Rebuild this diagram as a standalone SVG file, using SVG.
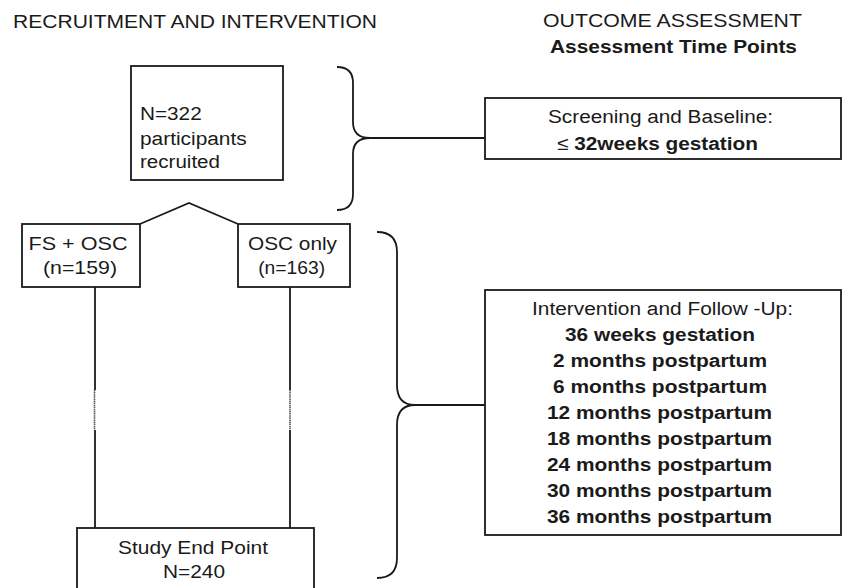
<svg xmlns="http://www.w3.org/2000/svg" width="843" height="588" viewBox="0 0 843 588">
<style>
text{font-family:"Liberation Sans",Arial,Helvetica,sans-serif;font-size:18.8px;fill:#1a1a1a}
.b{font-weight:bold}
.m{text-anchor:middle}
.box{fill:#fff;stroke:#1a1a1a;stroke-width:1.8}
.ln{fill:none;stroke:#1a1a1a;stroke-width:1.8}
.dot{fill:none;stroke:#555;stroke-width:1.6;stroke-dasharray:1.5 0.6}
</style>
<rect width="843" height="588" fill="#fff"/>
<g id="headers">
<text x="13" y="28" textLength="364" lengthAdjust="spacingAndGlyphs">RECRUITMENT AND INTERVENTION</text>
<text x="672.5" y="27" class="m" textLength="259" lengthAdjust="spacingAndGlyphs">OUTCOME ASSESSMENT</text>
<text x="673.5" y="53" class="m b" textLength="247" lengthAdjust="spacingAndGlyphs">Assessment Time Points</text>
</g>
<g id="connectors">
<polyline class="ln" points="140,224 189,203 238,224"/>
<line class="ln" x1="95" y1="287" x2="95" y2="390"/>
<line class="dot" x1="94.5" y1="390" x2="94.5" y2="430"/>
<line class="ln" x1="95" y1="430" x2="95" y2="529"/>
<line class="ln" x1="290" y1="287" x2="290" y2="390"/>
<line class="dot" x1="290" y1="390" x2="290" y2="430"/>
<line class="ln" x1="290" y1="430" x2="290" y2="529"/>
<path class="ln" d="M337,67 Q353,67 353,83 L353,122 Q353,138 370,138 Q353,138 353,154 L353,194 Q353,210 337,210"/>
<line class="ln" x1="370" y1="138" x2="485" y2="138"/>
<path class="ln" d="M377,232 Q397,232 397,252 L397,385 Q397,405 415,405 Q397,405 397,425 L397,558 Q397,578 377,578"/>
<line class="ln" x1="415" y1="405" x2="485" y2="405"/>
</g>
<g id="recruited">
<rect class="box" x="131" y="66" width="152" height="114"/>
<text x="140" y="120" textLength="61.7" lengthAdjust="spacingAndGlyphs">N=322</text>
<text x="140" y="145" textLength="106.7" lengthAdjust="spacingAndGlyphs">participants</text>
<text x="140" y="168" textLength="80" lengthAdjust="spacingAndGlyphs">recruited</text>
</g>
<g id="fs-osc">
<rect class="box" x="22" y="224" width="118" height="63"/>
<text x="78" y="250" class="m" textLength="99" lengthAdjust="spacingAndGlyphs">FS + OSC</text>
<text x="80" y="274" class="m" textLength="74" lengthAdjust="spacingAndGlyphs">(n=159)</text>
</g>
<g id="osc-only">
<rect class="box" x="238" y="224" width="112" height="63"/>
<text x="292.5" y="250" class="m" textLength="89" lengthAdjust="spacingAndGlyphs">OSC only</text>
<text x="291.7" y="274" class="m" textLength="67" lengthAdjust="spacingAndGlyphs">(n=163)</text>
</g>
<g id="end-point">
<rect class="box" x="77" y="528" width="237" height="70"/>
<text x="193" y="554" class="m" textLength="150" lengthAdjust="spacingAndGlyphs">Study End Point</text>
<text x="194" y="578" class="m" textLength="62" lengthAdjust="spacingAndGlyphs">N=240</text>
</g>
<g id="screening">
<rect class="box" x="485" y="98" width="356" height="61"/>
<text x="660.5" y="123" class="m" textLength="225" lengthAdjust="spacingAndGlyphs">Screening and Baseline:</text>
<text x="657.5" y="150" class="m b" textLength="201" lengthAdjust="spacingAndGlyphs"><tspan font-weight="normal">≤</tspan> 32weeks gestation</text>
</g>
<g id="follow-up">
<rect class="box" x="485" y="290" width="356" height="245"/>
<text x="662.5" y="315" class="m" textLength="261" lengthAdjust="spacingAndGlyphs">Intervention and Follow -Up:</text>
<text x="660" y="341" class="m b" textLength="190" lengthAdjust="spacingAndGlyphs">36 weeks gestation</text>
<text x="660" y="367" class="m b" textLength="214" lengthAdjust="spacingAndGlyphs">2 months postpartum</text>
<text x="660" y="393" class="m b" textLength="214" lengthAdjust="spacingAndGlyphs">6 months postpartum</text>
<text x="659.5" y="419" class="m b" textLength="225" lengthAdjust="spacingAndGlyphs">12 months postpartum</text>
<text x="659.5" y="445" class="m b" textLength="225" lengthAdjust="spacingAndGlyphs">18 months postpartum</text>
<text x="659.5" y="471" class="m b" textLength="225" lengthAdjust="spacingAndGlyphs">24 months postpartum</text>
<text x="659.5" y="497" class="m b" textLength="225" lengthAdjust="spacingAndGlyphs">30 months postpartum</text>
<text x="659.5" y="523" class="m b" textLength="225" lengthAdjust="spacingAndGlyphs">36 months postpartum</text>
</g>
</svg>
